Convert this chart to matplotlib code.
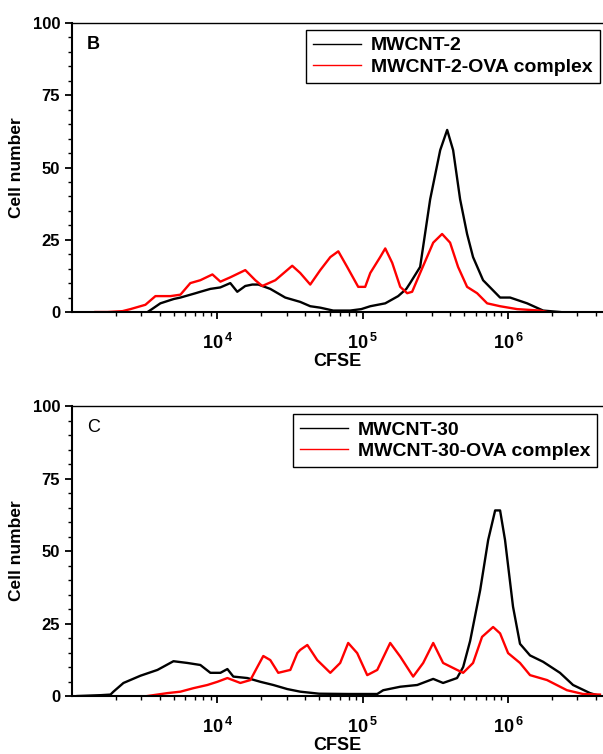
import numpy as np
import matplotlib
matplotlib.use("Agg")
import matplotlib.pyplot as plt
from matplotlib.ticker import FixedLocator, LogLocator, NullFormatter, MultipleLocator

plt.rcParams['font.family'] = ['Liberation Sans', 'DejaVu Sans']
plt.rcParams['mathtext.fontset'] = 'custom'
plt.rcParams['mathtext.rm'] = 'Liberation Sans:bold'
plt.rcParams['mathtext.bf'] = 'Liberation Sans:bold'

# panel B  (log10 CFSE, cell number)
b_black_log = [3.52, 3.55, 3.608, 3.70, 3.746, 3.85, 3.883, 3.952, 4.02, 4.089, 4.137, 4.192,
               4.24, 4.282, 4.364, 4.467, 4.570, 4.639, 4.708, 4.797, 4.914, 4.990, 5.052,
               5.155, 5.244, 5.30, 5.326, 5.395, 5.464, 5.533, 5.581, 5.622, 5.670, 5.718,
               5.759, 5.828, 5.945, 6.014, 6.131, 6.241, 6.357]
b_black = [0, 1, 3, 4.5, 5, 6.5, 7, 8, 8.5, 10, 7, 9,
           9.5, 9.5, 8, 5, 3.5, 2, 1.5, 0.5, 0.5, 1, 2,
           3, 5.5, 8, 10, 15.6, 39, 56, 63, 56, 39, 27,
           19, 11, 5, 5, 3, 0.5, 0]
b_red_log = [3.161, 3.244, 3.347, 3.402, 3.505, 3.574, 3.677, 3.746, 3.814, 3.883, 3.966, 4.021,
             4.089, 4.192, 4.261, 4.309, 4.399, 4.515, 4.570, 4.639, 4.708, 4.777, 4.832,
             4.893, 4.969, 5.017, 5.052, 5.120, 5.155, 5.203, 5.258, 5.306, 5.340, 5.395,
             5.485, 5.546, 5.601, 5.656, 5.718, 5.787, 5.856, 5.945, 6.062, 6.220, 6.268]
b_red = [0, 0, 0.3, 1, 2.5, 5.5, 5.5, 6, 10, 11, 13, 10.5,
         12, 14.5, 11, 9, 11, 16, 13.5, 9.5, 14.5, 19, 21,
         15.6, 8.7, 8.7, 13.5, 19, 22, 17, 8.7, 6.5, 7, 13.5,
         24, 27, 24, 15.6, 8.7, 6.5, 3, 2, 1, 0.5, 0]

# panel C
c_black_log = [3.038, 3.20, 3.265, 3.285, 3.354, 3.471, 3.588, 3.698, 3.794, 3.883, 3.952, 4.021,
               4.069, 4.110, 4.206, 4.296, 4.385, 4.481, 4.570, 4.70, 4.90, 5.10, 5.141,
               5.258, 5.375, 5.485, 5.553, 5.649, 5.691, 5.739, 5.808, 5.863, 5.911, 5.945,
               5.979, 6.034, 6.082, 6.151, 6.241, 6.357, 6.447, 6.564, 6.632]
c_black = [0, 0.3, 0.5, 1.5, 4.5, 7, 9, 12, 11.4, 10.7, 8, 8,
           9.3, 6.7, 6.2, 4.9, 3.8, 2.4, 1.5, 0.8, 0.7, 0.7, 2,
           3.2, 3.8, 5.9, 4.5, 6.2, 10, 19, 36.5, 53.8, 64, 64,
           53.8, 30.8, 18, 14, 11.8, 8, 3.8, 1, 0]
c_red_log = [3.519, 3.656, 3.746, 3.835, 3.931, 4.0, 4.069, 4.158, 4.227, 4.275, 4.316, 4.364,
             4.419, 4.502, 4.550, 4.570, 4.619, 4.687, 4.777, 4.845, 4.900, 4.962, 5.031,
             5.100, 5.189, 5.258, 5.347, 5.416, 5.485, 5.553, 5.649, 5.691, 5.759, 5.821,
             5.897, 5.945, 6.0, 6.082, 6.151, 6.268, 6.405, 6.515, 6.632]
c_red = [0, 1, 1.5, 2.7, 3.8, 4.9, 6.2, 4.5, 5.5, 10, 13.8, 12.4,
         8, 9, 14.8, 15.9, 17.6, 12.4, 8, 11.4, 18.3, 14.8, 7.2,
         9, 18.3, 13.6, 6.7, 11.4, 18.3, 11.4, 9, 8, 11.4, 20.4,
         23.8, 21.6, 14.8, 11.4, 7.2, 5.5, 2, 0.7, 0.5]

panels = [
    ("B", "bold", ["MWCNT-2", "MWCNT-2-OVA complex"], b_black_log, b_black, b_red_log, b_red, (0.4407, 0.976)),
    ("C", "normal", ["MWCNT-30", "MWCNT-30-OVA complex"], c_black_log, c_black, c_red_log, c_red, (0.416, 0.972)),
]

fig = plt.figure(figsize=(6.03, 7.54), dpi=100)
rects = [[0.1194, 0.5862, 0.8806, 0.3833], [0.1194, 0.0769, 0.8806, 0.3846]]

for rect, (lab, lw_, names, xbl, ybl, xrd, yrd, anchor) in zip(rects, panels):
    ax = fig.add_axes(rect)
    ax.plot(10 ** np.array(xbl), ybl, color="black", lw=1.7, label=names[0])
    ax.plot(10 ** np.array(xrd), yrd, color="#ff0000", lw=1.7, label=names[1])
    ax.set_xscale("log")
    ax.set_xlim(10 ** 3.0, 10 ** 6.653)
    ax.set_ylim(0, 100)
    ax.spines["right"].set_visible(False)
    for s in ["left", "bottom", "top"]:
        ax.spines[s].set_linewidth(1.5 if s != "top" else 1.0)
    ax.xaxis.set_major_locator(FixedLocator([1e4, 1e5, 1e6]))
    ax.set_xticklabels([r"$10^{\,4}$", r"$10^{\,5}$", r"$10^{\,6}$"])
    ax.xaxis.set_minor_locator(LogLocator(base=10, subs=np.arange(2, 10)))
    ax.xaxis.set_minor_formatter(NullFormatter())
    ax.yaxis.set_major_locator(MultipleLocator(25))
    ax.yaxis.set_minor_locator(MultipleLocator(5))
    ax.tick_params(axis="both", which="major", direction="out", length=5, width=1.3, labelsize=12)
    ax.tick_params(axis="both", which="minor", direction="out", length=3, width=1.0)
    ax.tick_params(axis="x", which="major", pad=10, labelsize=13)
    for t in ax.get_yticklabels():
        t.set_fontweight("bold")
    ax.set_ylabel("Cell number", fontsize=12.5, fontweight="bold", labelpad=6)
    ax.set_xlabel("CFSE", fontsize=13, fontweight="bold", labelpad=0)
    ax.text(0.028, 0.925, lab, transform=ax.transAxes, fontsize=13, fontweight=lw_,
            ha="left", va="center")
    leg = ax.legend(loc="upper left", bbox_to_anchor=anchor,
                    borderaxespad=0, fancybox=False, framealpha=1,
                    edgecolor="black", handlelength=2.5, handletextpad=0.5, borderpad=0.35,
                    labelspacing=0.2, prop={"size": 14, "weight": "bold"})
    leg.get_frame().set_linewidth(1.0)
    for ln in leg.get_lines():
        ln.set_linewidth(1.0)

fig.savefig("out.png", dpi=100)
